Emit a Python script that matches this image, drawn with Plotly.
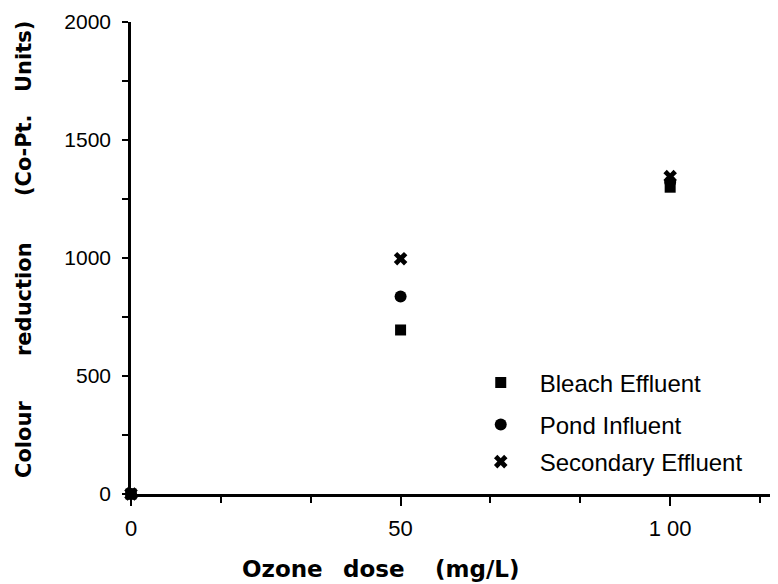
import plotly.graph_objects as go

ozone_dose = [0, 50, 100]
bleach_effluent = [0, 695, 1300]
pond_influent = [0, 837, 1322]
secondary_effluent = [0, 997, 1345]

series_names = ["Bleach Effluent", "Pond Influent", "Secondary Effluent"]
x_tick_vals = [0, 50, 100]
x_tick_text = ["0", "50", "1 00"]
y_tick_vals = [0, 500, 1000, 1500, 2000]
y_title_words = ["Colour", "reduction", "(Co-Pt.", "Units)"]
x_title_words = ["Ozone", "dose", "(mg/L)"]

fig = go.Figure()
symbols = ["square", "circle", "x"]
sizes = [11, 12, 12]
legend_ids = ["legend", "legend2", "legend3"]
series = [bleach_effluent, pond_influent, secondary_effluent]
for i in range(3):
    fig.add_trace(go.Scatter(
        x=ozone_dose, y=series[i], mode="markers", name=series_names[i],
        legend=legend_ids[i],
        marker=dict(symbol=symbols[i], size=sizes[i], color="black", line=dict(width=0)),
        cliponaxis=False,
    ))

leg_font = dict(size=24, color="black", family="Liberation Sans, Arial, sans-serif")
leg_common = dict(x=0.5112, xanchor="left", yanchor="middle", font=leg_font,
                  bgcolor="rgba(0,0,0,0)", itemwidth=68, borderwidth=0)

tfont = dict(family="DejaVu Sans", size=21, color="black", weight="bold")
annotations = []
y_centers_px = [440, 299, 155, 57]
for w, yc in zip(y_title_words, y_centers_px):
    annotations.append(dict(text=w, xref="paper", yref="paper",
                            x=(24 - 131) / 647, y=(494 - yc) / 472,
                            xanchor="center", yanchor="middle", textangle=-90,
                            showarrow=False, font=tfont))
x_centers_px = [282, 374, 478]
for w, xc in zip(x_title_words, x_centers_px):
    annotations.append(dict(text=w, xref="paper", yref="paper",
                            x=(xc - 131) / 647, y=(494 - 569) / 472,
                            xanchor="center", yanchor="middle",
                            showarrow=False, font=dict(tfont, size=23)))

fig.update_layout(
    width=770, height=576,
    margin=dict(l=123, r=0, t=14, b=90),
    paper_bgcolor="white", plot_bgcolor="white",
    font=dict(family="Liberation Sans, Arial, sans-serif", color="black"),
    showlegend=True,
    legend=dict(leg_common, y=(494 - 383) / 472),
    legend2=dict(leg_common, y=(494 - 425) / 472),
    legend3=dict(leg_common, y=(494 - 462) / 472),
    xaxis=dict(range=[0, 120], showgrid=False, zeroline=False,
               showline=True, linecolor="black", linewidth=2.5,
               ticks="outside", ticklen=9, tickwidth=2, tickcolor="black",
               tickvals=x_tick_vals, ticktext=x_tick_text,
               tickfont=dict(size=22, family="Liberation Sans, Arial", color="black"),
               ticklabelstandoff=4,
               minor=dict(dtick=50 / 3, tick0=0, ticks="outside", ticklen=6,
                          tickwidth=2, tickcolor="black")),
    yaxis=dict(range=[0, 2000], showgrid=False, zeroline=False,
               showline=True, linecolor="black", linewidth=2.5,
               ticks="outside", ticklen=6, tickwidth=2, tickcolor="black",
               tickvals=y_tick_vals,
               tickfont=dict(size=21, family="Liberation Sans, Arial", color="black"),
               ticklabelstandoff=7,
               minor=dict(dtick=250, tick0=0, ticks="outside", ticklen=6,
                          tickwidth=2, tickcolor="black")),
    annotations=annotations,
)

fig.write_html("out.html")
